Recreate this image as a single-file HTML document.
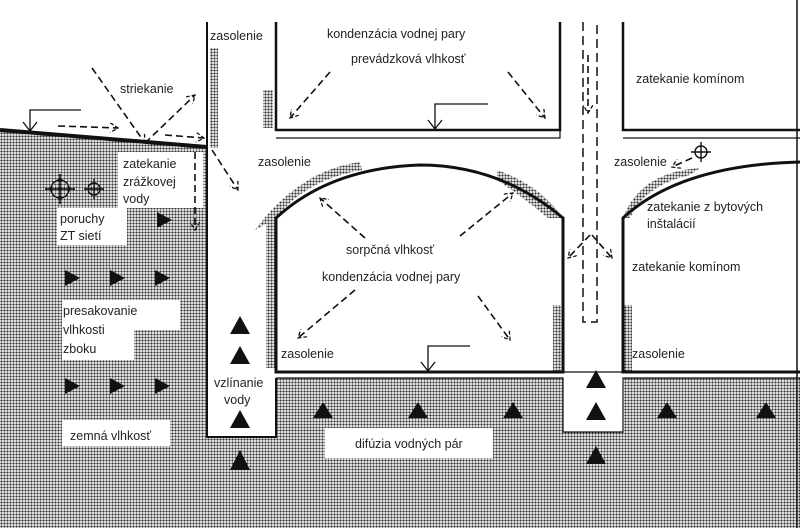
<!DOCTYPE html>
<html><head><meta charset="utf-8"><style>
html,body{margin:0;padding:0;background:#fff}
svg{display:block}
text{font-family:"Liberation Sans",sans-serif;font-size:12.5px;fill:#222}
</style></head><body>
<svg width="800" height="528" viewBox="0 0 800 528" xmlns="http://www.w3.org/2000/svg">
<defs>
<pattern id="dots" width="3" height="3" patternUnits="userSpaceOnUse">
<rect width="3" height="3" fill="#fff"/><circle cx="1.5" cy="1.5" r="1.15" fill="#333"/>
</pattern>
<marker id="ah" markerWidth="10" markerHeight="10" refX="8" refY="5" orient="auto" markerUnits="userSpaceOnUse">
<path d="M0,0 L8,5 L0,10" fill="none" stroke="#111" stroke-width="1.3" stroke-dasharray="4,2"/>
</marker>
</defs>
<path d="M0,130 L207,147 L207,437 L276,437 L276,378 L563,378 L563,432 L623,432 L623,378 L800,378 L800,528 L0,528 Z" fill="url(#dots)"/>
<rect x="210" y="48" width="8" height="100" fill="url(#dots)"/>
<rect x="263" y="90" width="10" height="38" fill="url(#dots)"/>
<rect x="266" y="218" width="9" height="150" fill="url(#dots)"/>
<path d="M255,230 Q300,170 360,162 L362,170 Q305,180 276,218 Z" fill="url(#dots)"/>
<path d="M497,170 Q540,185 563,218 L548,218 Q520,195 497,180 Z" fill="url(#dots)"/>
<path d="M623,218 Q640,172 700,168 L690,175 Q645,185 630,218 Z" fill="url(#dots)"/>
<rect x="553" y="305" width="9" height="67" fill="url(#dots)"/>
<rect x="623" y="305" width="9" height="67" fill="url(#dots)"/>
<rect x="118" y="152" width="77" height="56" fill="#fff"/>
<rect x="195" y="152" width="8" height="56" fill="#fff"/>
<rect x="57" y="208" width="70" height="37" fill="#fff"/>
<rect x="62" y="300" width="118" height="30" fill="#fff"/>
<rect x="62" y="330" width="72" height="30" fill="#fff"/>
<rect x="62" y="420" width="108" height="26" fill="#fff"/>
<rect x="325" y="428" width="168" height="30" fill="#fff"/>
<g stroke="#111" fill="none">
<path d="M0,130 L207,147" stroke-width="4"/>
<path d="M207,22 L207,437 L276,437 L276,378" stroke-width="2"/>
<path d="M276,22 L276,130 L560,130 L560,22" stroke-width="2.5"/>
<path d="M276,138 L560,138 L560,130" stroke-width="1.2"/>
<path d="M623,22 L623,130 L800,130" stroke-width="2.5"/>
<path d="M623,138 L800,138" stroke-width="1.2"/>
<path d="M797,0 L797,528" stroke-width="1.5"/>
<path d="M276,372 L276,218 Q330,168 420,165 Q500,165 563,218 L563,372 Z" stroke-width="3"/>
<path d="M276,378 L563,378 L563,432 L623,432 L623,378 L800,378" stroke-width="1.2"/>
<path d="M563,372 L623,372" stroke-width="1.2"/>
<path d="M800,372 L623,372 L623,218 Q680,165 800,162" stroke-width="3"/>
<path d="M583,22 L583,322 L597,322 L597,22" stroke-width="1.5" stroke-dasharray="9,5"/>
<path d="M81,110 L30,110 L30,130 M23,122 L30,131 L37,122" stroke-width="1.3"/>
<path d="M488,104 L435,104 L435,128 M428,120 L435,129 L442,120" stroke-width="1.3"/>
<path d="M470,346 L428,346 L428,370 M421,362 L428,371 L435,362" stroke-width="1.3"/>
</g>
<g stroke="#111" stroke-width="1.6" fill="none" stroke-dasharray="7,4" marker-end="url(#ah)">
<path d="M92,68 L145,143"/>
<path d="M145,143 L195,95"/>
<path d="M58,126 L118,128"/>
<path d="M165,135 L204,138"/>
<path d="M212,150 L238,190"/>
<path d="M195,152 L195,230"/>
<path d="M330,72 L290,118"/>
<path d="M508,72 L545,118"/>
<path d="M365,238 L320,198"/>
<path d="M460,236 L513,193"/>
<path d="M355,290 L298,338"/>
<path d="M478,296 L510,340"/>
<path d="M588,55 L588,113"/>
<path d="M590,235 L568,258"/>
<path d="M592,235 L612,258"/>
<path d="M692,158 L672,167"/>
</g>
<g stroke="#111" stroke-width="1.4" fill="none">
<circle cx="60" cy="189" r="9"/><path d="M45,189 L75,189 M60,174 L60,204"/>
<circle cx="94" cy="189" r="6"/><path d="M84,189 L104,189 M94,179 L94,199"/>
<circle cx="701" cy="152" r="6"/><path d="M691,152 L711,152 M701,142 L701,162"/>
</g>
<g fill="#111">
<path d="M157,212 L172,220 L157,228Z"/>
<path d="M65,270 L80,278 L65,286Z"/><path d="M110,270 L125,278 L110,286Z"/><path d="M155,270 L170,278 L155,286Z"/>
<path d="M65,378 L80,386 L65,394Z"/><path d="M110,378 L125,386 L110,394Z"/><path d="M155,378 L170,386 L155,394Z"/>
<path d="M240,316 L250,334 L230,334Z"/><path d="M240,346 L250,364 L230,364Z"/><path d="M240,410 L250,428 L230,428Z"/><path d="M240,450 L250,470 L230,470Z"/>
<path d="M323,402 L333,418 L313,418Z"/><path d="M418,402 L428,418 L408,418Z"/><path d="M513,402 L523,418 L503,418Z"/>
<path d="M596,370 L606,388 L586,388Z"/><path d="M596,402 L606,420 L586,420Z"/><path d="M596,446 L606,464 L586,464Z"/>
<path d="M667,402 L677,418 L657,418Z"/><path d="M766,402 L776,418 L756,418Z"/>
</g>
<text x="210" y="40">zasolenie</text>
<text x="327" y="38">kondenzácia vodnej pary</text>
<text x="351" y="63">prevádzková vlhkosť</text>
<text x="120" y="93">striekanie</text>
<text x="636" y="83">zatekanie komínom</text>
<text x="123" y="168">zatekanie</text>
<text x="123" y="186">zrážkovej</text>
<text x="123" y="203">vody</text>
<text x="258" y="166">zasolenie</text>
<text x="614" y="166">zasolenie</text>
<text x="60" y="223">poruchy</text>
<text x="60" y="240">ZT sietí</text>
<text x="647" y="211">zatekanie z bytových</text>
<text x="647" y="228">inštalácií</text>
<text x="346" y="254">sorpčná vlhkosť</text>
<text x="322" y="281">kondenzácia vodnej pary</text>
<text x="632" y="271">zatekanie komínom</text>
<text x="63" y="315">presakovanie</text>
<text x="63" y="334">vlhkosti</text>
<text x="63" y="353">zboku</text>
<text x="281" y="358">zasolenie</text>
<text x="632" y="358">zasolenie</text>
<text x="214" y="387">vzlínanie</text>
<text x="224" y="404">vody</text>
<text x="70" y="440">zemná vlhkosť</text>
<text x="355" y="448">difúzia vodných pár</text>
</svg>
</body></html>
